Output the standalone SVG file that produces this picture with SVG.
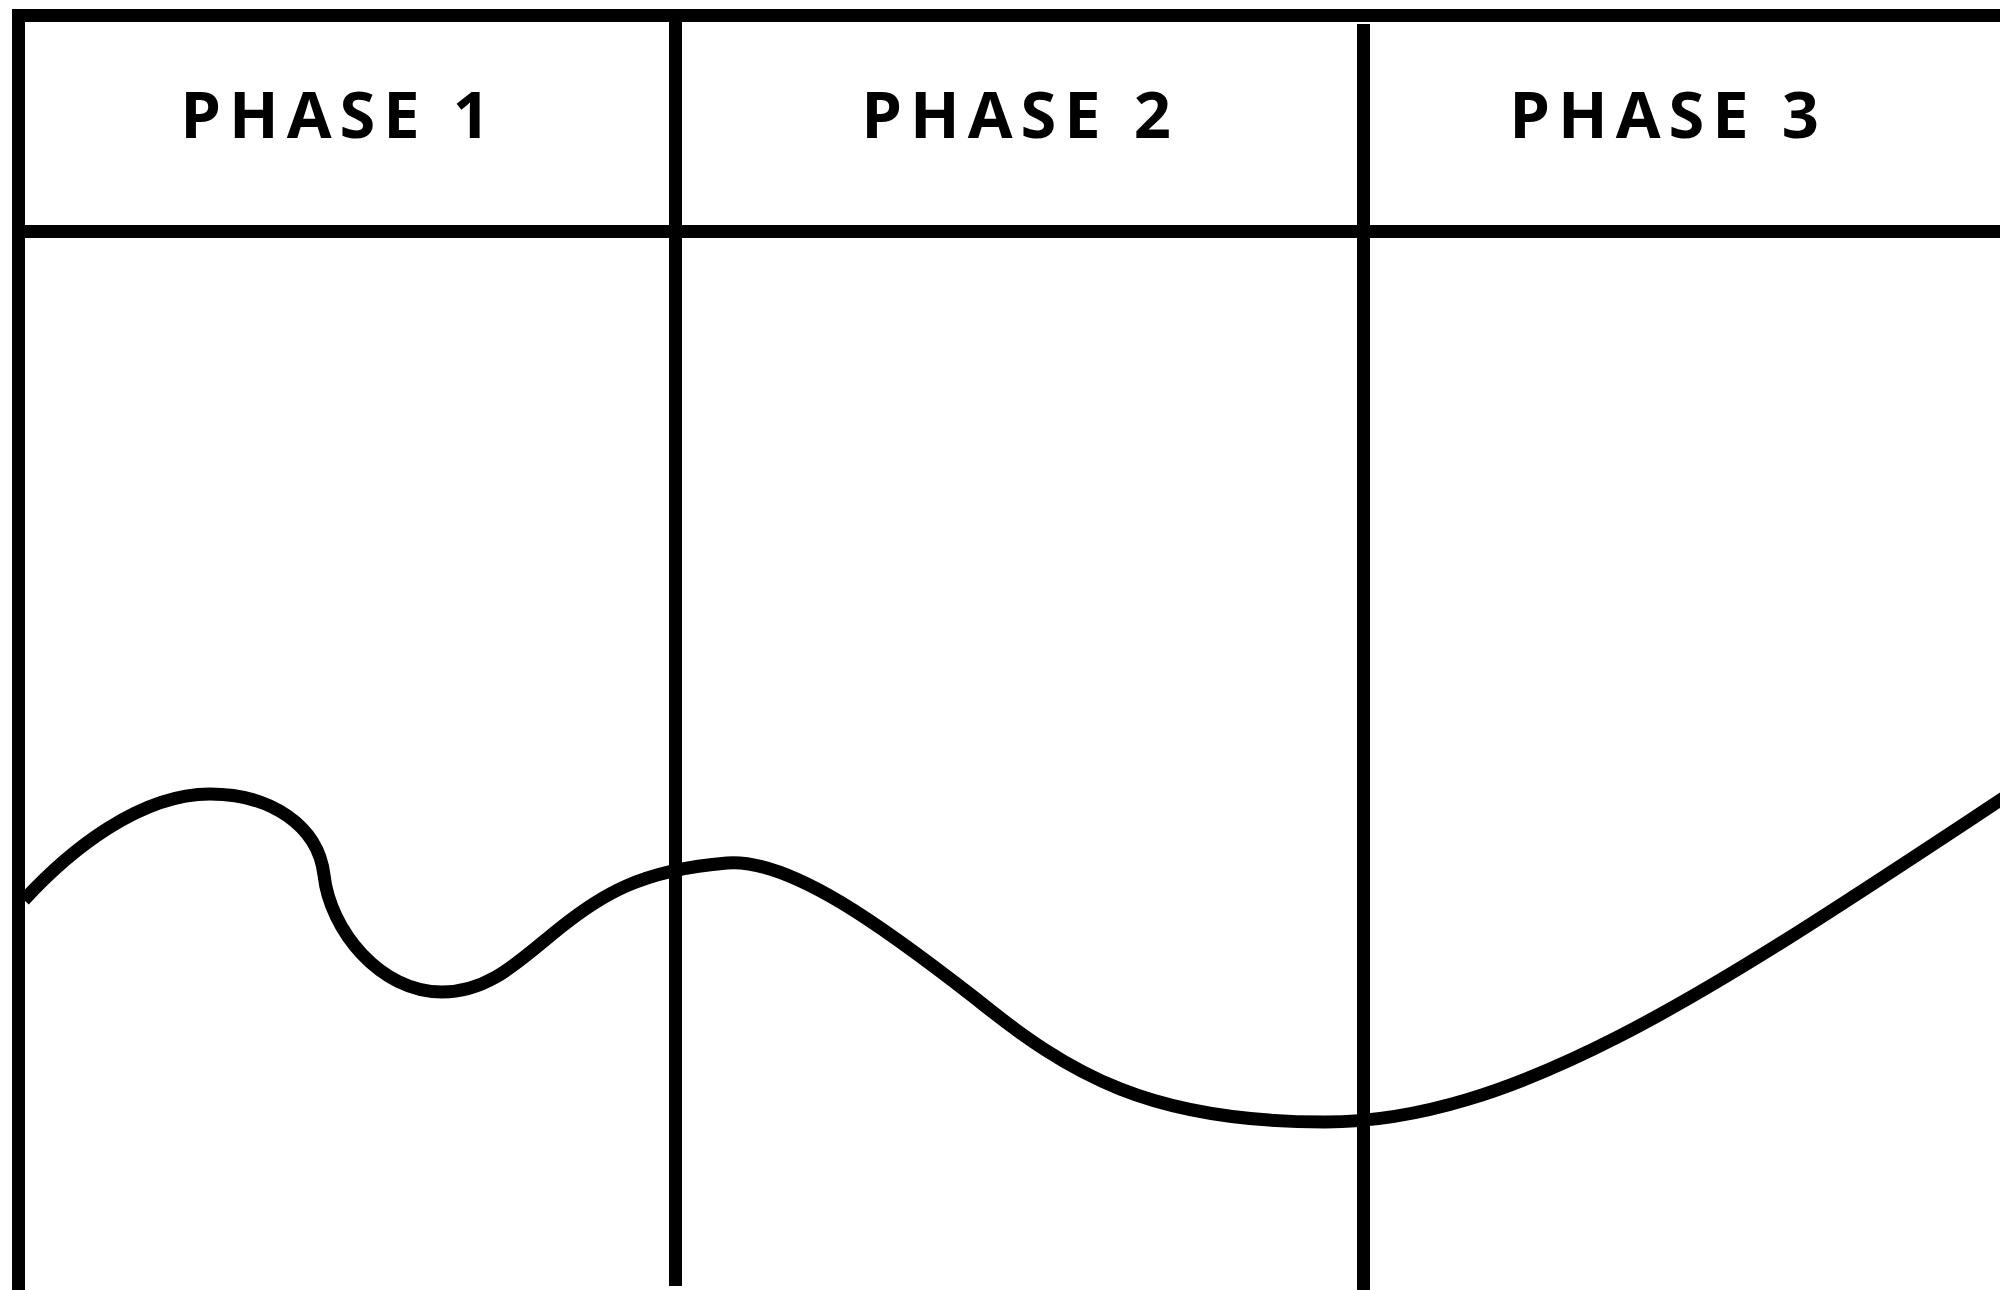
<svg xmlns="http://www.w3.org/2000/svg" width="2000" height="1290" viewBox="0 0 2000 1290">
  <style>
    .grid { stroke: #000; stroke-width: 13; fill: none; stroke-linecap: butt; }
    .curve { stroke: #000; stroke-width: 13; fill: none; stroke-linecap: butt; stroke-linejoin: round; }
    .label { font-family: "Open Sans", "Liberation Sans", sans-serif; font-weight: 700; font-size: 65px; letter-spacing: 8px; fill: #000; text-anchor: middle; }
  </style>
  <rect x="0" y="0" width="2000" height="1290" fill="#fff"/>
  <g id="frame">
    <path class="grid" d="M12 15.5 H2000"/>
    <path class="grid" d="M18.5 9 V1290"/>
    <path class="grid" d="M12 231.5 H2000"/>
    <path class="grid" d="M675.5 9 V1286"/>
    <path class="grid" d="M1363.5 24 V1290"/>
  </g>
  <g id="phase1"><text class="label" x="339" y="137.5">PHASE 1</text></g>
  <g id="phase2"><text class="label" x="1020" y="137.5">PHASE 2</text></g>
  <g id="phase3"><text class="label" x="1668" y="137.5">PHASE 3</text></g>
  <g id="connectors">
    <path class="curve" d="M24 900 C70 850, 140 794, 210 794 C270 794, 318 825, 324 875 C330 930, 380 992, 442 992 C490 992, 520 960, 560 928 C600 896, 640 870, 727 863 C790 858, 885 928, 975 998 C1070 1075, 1150 1122, 1325 1122 C1520 1122, 1720 985, 2005 797"/>
  </g>
</svg>
